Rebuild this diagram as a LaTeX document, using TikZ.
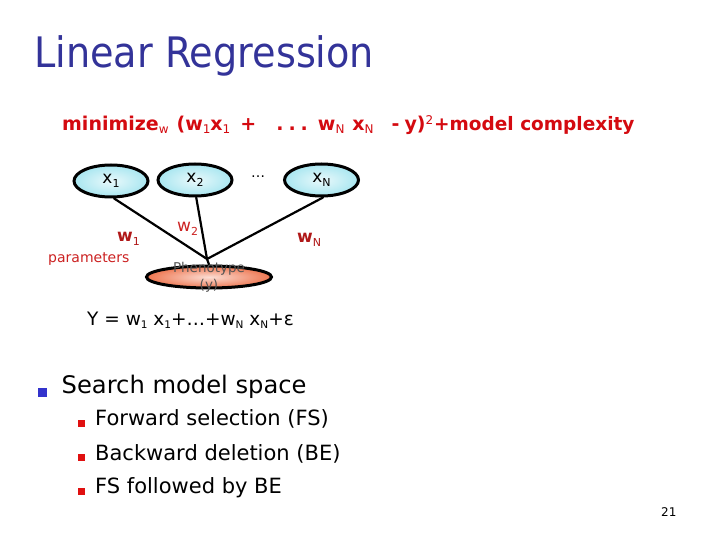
\documentclass[tikz,border=0pt]{standalone}
\usepackage{fontspec}
\setmainfont{DejaVu Sans}
\usetikzlibrary{shapes.geometric}
\definecolor{titleblue}{HTML}{333399}
\definecolor{minred}{HTML}{D40A10}
\definecolor{wred}{HTML}{B01818}
\definecolor{parred}{HTML}{CC2222}
\definecolor{bulblue}{HTML}{3333CC}
\definecolor{bulred}{HTML}{E01010}
\definecolor{cyanfill}{HTML}{A8E6F0}
\definecolor{salmon}{HTML}{EE7650}
\definecolor{phgray}{HTML}{555555}
\newcommand\fsz[1]{\fontsize{#1}{#1}\selectfont}
\newcommand\lowr[2]{\raisebox{-#1}{#2}}
\begin{document}
\begin{tikzpicture}[x=1pt,y=-1pt,
  txt/.style={inner sep=0pt, anchor=base west},
  ctxt/.style={inner sep=0pt, anchor=base},
  varnode/.style={ellipse, draw=black, line width=3pt, minimum width=74pt, minimum height=32pt, inner sep=0pt, inner color=cyanfill!25, outer color=cyanfill},
  phen/.style={ellipse, draw=black, line width=3pt, minimum width=125pt, minimum height=22pt, inner sep=0pt, inner color=salmon!25, outer color=salmon},
  edge/.style={line width=2.2pt, line cap=round},
  sqblue/.style={fill=bulblue},
  sqred/.style={fill=bulred}]
\useasboundingbox (0,0) rectangle (720,540);
\fill[white] (0,0) rectangle (720,540);

% title
\node[txt, text=titleblue] (title) at (34,68) {\scalebox{0.91}[1]{\fsz{42}Linear Regression}};

% objective
\node[txt, text=minred] (minA) at (62,131) {\bfseries\fsz{19}minimize\lowr{3pt}{\fsz{12}\mdseries w}\hspace{8pt}(w\lowr{3pt}{\fsz{12}\mdseries 1}x\lowr{3pt}{\fsz{12}\mdseries 1}\hspace{10pt}+\hspace{20pt}.\hspace{5pt}.\hspace{5pt}.\hspace{10pt}w\lowr{3pt}{\fsz{12}\mdseries N}\hspace{8pt}x\lowr{3pt}{\fsz{12}\mdseries N}\hspace{18pt}-\hspace{5pt}y)\raisebox{6pt}{\fsz{12}\mdseries 2}};
\node[txt, text=minred] (minB) at (434,131) {\bfseries\fsz{18.5}+model complexity};

% graph
\node[varnode] (x1) at (111,181) {\fsz{17}x\lowr{4pt}{\fsz{11}1}};
\node[varnode] (x2) at (195,180) {\fsz{17}x\lowr{4pt}{\fsz{11}2}};
\node[varnode] (xN) at (321.5,180) {\fsz{17}x\lowr{4pt}{\fsz{11}N}};
\node[ctxt] (dots) at (258,178) {\fsz{14}\dots};
\node[phen] (ph) at (209,277) {};
\coordinate (conv) at (207,259);
\draw[edge] (x1.-80) -- (conv);
\draw[edge] (x2.-86) -- (conv);
\draw[edge] (xN.-85) -- (conv);
\draw[edge] (conv) -- (ph.north);
\node[ctxt, text=phgray] (phA) at (209,272) {\fsz{13.5}Phenotype};
\node[ctxt, text=phgray] (phB) at (209,289) {\fsz{13.5}(y)};

\node[txt, text=wred] (w1) at (117,241) {\bfseries\fsz{17}w\lowr{4pt}{\fsz{11}\mdseries 1}};
\node[txt, text=parred] (w2) at (177,232) {\fsz{17}w\lowr{4pt}{\fsz{11}2}};
\node[txt, text=wred] (wN) at (297,242) {\bfseries\fsz{17}w\lowr{4pt}{\fsz{11}\mdseries N}};
\node[txt, text=parred] (par) at (48,262) {\fsz{14}parameters};

% model equation
\node[txt] (eq) at (87,325) {\fsz{18.5}Y = w\lowr{3pt}{\fsz{10.5}1} x\lowr{3pt}{\fsz{10.5}1}+\dots+w\lowr{3pt}{\fsz{10.5}N} x\lowr{3pt}{\fsz{10.5}N}+ε};

% bullets
\fill[sqblue] (38,388) rectangle (46.5,396.5);
\node[txt] (s0) at (61.5,393) {\fsz{24.2}Search model space};
\fill[sqred] (78,420) rectangle (85,427);
\node[txt] (s1) at (95,425) {\fsz{21}Forward selection (FS)};
\fill[sqred] (78,454) rectangle (85,461);
\node[txt] (s2) at (95,460) {\fsz{21}Backward deletion (BE)};
\fill[sqred] (78,488) rectangle (85,495);
\node[txt] (s3) at (95,493) {\fsz{21}FS followed by BE};

\node[txt] (pg) at (661,516) {\fsz{12}21};
\end{tikzpicture}
\end{document}
